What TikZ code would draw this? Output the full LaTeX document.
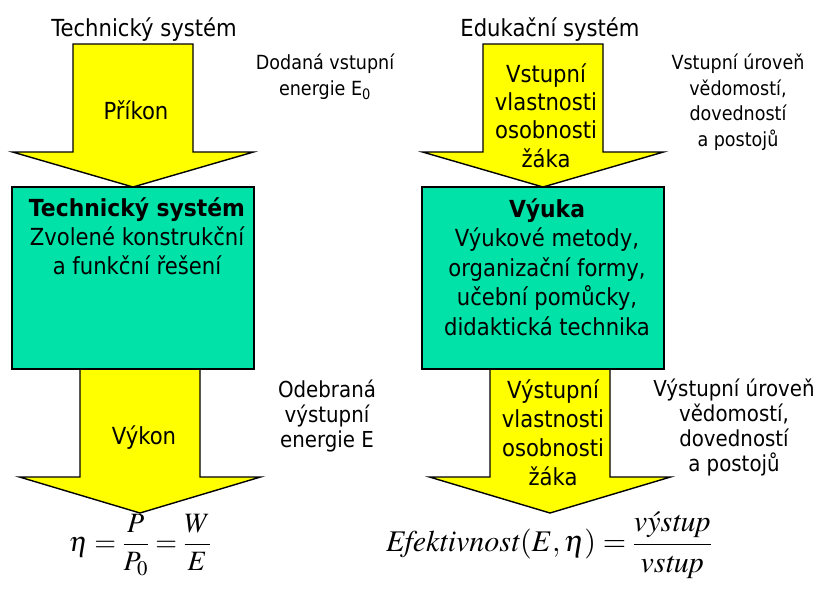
\documentclass[tikz,border=0pt]{standalone}
\usepackage{amsmath}
\usepackage{mathptmx}
\usepackage[no-math]{fontspec}
\setmainfont{DejaVu Sans}[FakeStretch=0.9,BoldFeatures={FakeStretch=0.93}]
\usetikzlibrary{positioning}

\definecolor{arrowyellow}{RGB}{255,255,0}
\definecolor{blockgreen}{RGB}{0,226,168}

\tikzset{
  flow/.style={draw=black,fill=arrowyellow,line width=1.4pt,line join=miter},
  block/.style={draw=black,fill=blockgreen,line width=1.4pt,minimum width=242pt,minimum height=182pt,inner sep=0pt},
  txt/.style={font=\fontsize{23.5}{29}\selectfont,align=center,inner sep=0pt},
  note/.style={font=\fontsize{19.5}{25.5}\selectfont,align=center,inner sep=0pt},
  bignote/.style={font=\fontsize{22}{25}\selectfont,align=center,inner sep=0pt},
  formula/.style={font=\fontsize{28}{33}\selectfont,inner sep=0pt}
}

\begin{document}
\begin{tikzpicture}[x=1pt,y=-1pt]
  \useasboundingbox (0,0) rectangle (820,595);
  % block arrows: centre / top / head base / tip
  \foreach \c/\t/\b/\p in {140/369/477/513, 550/369/477/513, 133/44/152/187, 543/44/152/187}{
    \draw[flow] ({\c-60},\t) -- ({\c+60},\t) -- ({\c+60},\b) -- ({\c+120.5},\b)
      -- (\c,\p) -- ({\c-120.5},\b) -- ({\c-60},\b) -- cycle;
  }
  \node[block] (techbox) at (133,278) {};
  \node[block] (edubox) at (543,278) {};

  % titles
  \node[txt,anchor=base] (techtitle) at (144,36) {Technický systém};
  \node[txt,anchor=base] (edutitle) at (550,36) {Edukační systém};

  % arrow texts (base = last line)
  \node[txt,anchor=base] (prikon) at (136,119) {Příkon};
  \node[txt,anchor=base] (vykon) at (144,444) {Výkon};
  \node[txt,anchor=base,font=\fontsize{23.5}{28.3}\selectfont] (vstupni) at (546,167) {Vstupní\\vlastnosti\\osobnosti\\žáka};
  \node[txt,anchor=base] (vystupni) at (553,485) {Výstupní\\vlastnosti\\osobnosti\\žáka};

  % box texts
  \node[txt,anchor=base] (techtext) at (137,274) {\textbf{Technický systém}\\Zvolené konstrukční\\a funkční řešení};
  \node[txt,anchor=base,font=\fontsize{23.5}{29.5}\selectfont] (edutext) at (547,335) {\textbf{Výuka}\\Výukové metody,\\organizační formy,\\učební pomůcky,\\didaktická technika};

  % side notes
  \node[note,anchor=base] (dodana) at (325,95) {Dodaná vstupní\\energie E\textsubscript{0}};
  \node[bignote,anchor=base] (odebrana) at (327,447) {Odebraná\\výstupní\\energie E};
  \node[note,anchor=base] (vstuproven) at (738,146) {Vstupní úroveň\\vědomostí,\\dovedností\\a postojů};
  \node[bignote,anchor=base] (vystuproven) at (734,471) {Výstupní úroveň\\vědomostí,\\dovedností\\a postojů};

  % formulas
  \node[formula] (eta) at (140,545) {$\eta=\dfrac{P}{P_0}=\dfrac{W}{E}$};
  \node[formula,font=\fontsize{30}{35}\selectfont] (efekt) at (549,545) {$\mathit{Efektivnost}(E,\eta)=\dfrac{\mathit{v\acute{y}stup}}{\mathit{vstup}}$};
\end{tikzpicture}
\end{document}
